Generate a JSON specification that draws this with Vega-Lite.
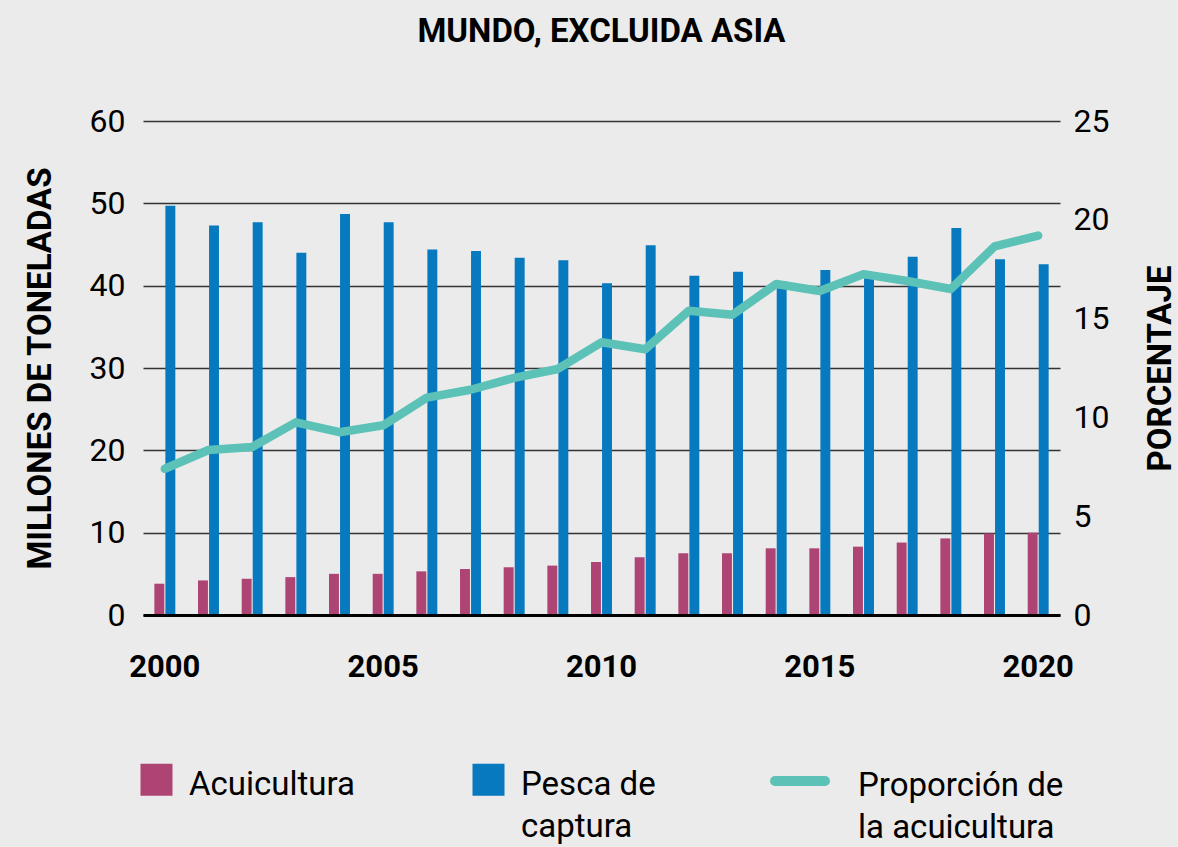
{
  "$schema": "https://vega.github.io/schema/vega-lite/v6.json",
  "autosize": {"type": "none"},
  "padding": {"left": 143, "top": 121, "right": 118, "bottom": 232},
  "width": 917,
  "height": 494,
  "background": "#ebebeb",
  "title": {
    "text": "MUNDO, EXCLUIDA ASIA",
    "fontSize": 33,
    "fontWeight": "bold",
    "font": "Roboto",
    "color": "#000000",
    "anchor": "middle",
    "baseline": "bottom",
    "offset": 23
  },
  "datasets": {
    "barras": [
      {"year": 2000, "serie": "Acuicultura", "valor": 3.8},
      {"year": 2000, "serie": "Pesca de captura", "valor": 49.7},
      {"year": 2001, "serie": "Acuicultura", "valor": 4.2},
      {"year": 2001, "serie": "Pesca de captura", "valor": 47.3},
      {"year": 2002, "serie": "Acuicultura", "valor": 4.4},
      {"year": 2002, "serie": "Pesca de captura", "valor": 47.7},
      {"year": 2003, "serie": "Acuicultura", "valor": 4.6},
      {"year": 2003, "serie": "Pesca de captura", "valor": 44.0},
      {"year": 2004, "serie": "Acuicultura", "valor": 5.0},
      {"year": 2004, "serie": "Pesca de captura", "valor": 48.7},
      {"year": 2005, "serie": "Acuicultura", "valor": 5.0},
      {"year": 2005, "serie": "Pesca de captura", "valor": 47.7},
      {"year": 2006, "serie": "Acuicultura", "valor": 5.3},
      {"year": 2006, "serie": "Pesca de captura", "valor": 44.4},
      {"year": 2007, "serie": "Acuicultura", "valor": 5.6},
      {"year": 2007, "serie": "Pesca de captura", "valor": 44.2},
      {"year": 2008, "serie": "Acuicultura", "valor": 5.8},
      {"year": 2008, "serie": "Pesca de captura", "valor": 43.4},
      {"year": 2009, "serie": "Acuicultura", "valor": 6.0},
      {"year": 2009, "serie": "Pesca de captura", "valor": 43.1},
      {"year": 2010, "serie": "Acuicultura", "valor": 6.45},
      {"year": 2010, "serie": "Pesca de captura", "valor": 40.3},
      {"year": 2011, "serie": "Acuicultura", "valor": 7.0},
      {"year": 2011, "serie": "Pesca de captura", "valor": 44.9},
      {"year": 2012, "serie": "Acuicultura", "valor": 7.5},
      {"year": 2012, "serie": "Pesca de captura", "valor": 41.2},
      {"year": 2013, "serie": "Acuicultura", "valor": 7.5},
      {"year": 2013, "serie": "Pesca de captura", "valor": 41.7},
      {"year": 2014, "serie": "Acuicultura", "valor": 8.1},
      {"year": 2014, "serie": "Pesca de captura", "valor": 40.5},
      {"year": 2015, "serie": "Acuicultura", "valor": 8.1},
      {"year": 2015, "serie": "Pesca de captura", "valor": 41.9},
      {"year": 2016, "serie": "Acuicultura", "valor": 8.3},
      {"year": 2016, "serie": "Pesca de captura", "valor": 40.9},
      {"year": 2017, "serie": "Acuicultura", "valor": 8.8},
      {"year": 2017, "serie": "Pesca de captura", "valor": 43.5},
      {"year": 2018, "serie": "Acuicultura", "valor": 9.3},
      {"year": 2018, "serie": "Pesca de captura", "valor": 47.0},
      {"year": 2019, "serie": "Acuicultura", "valor": 9.9},
      {"year": 2019, "serie": "Pesca de captura", "valor": 43.2},
      {"year": 2020, "serie": "Acuicultura", "valor": 10.0},
      {"year": 2020, "serie": "Pesca de captura", "valor": 42.6}
    ],
    "proporcion": [
      {"year": 2000, "indicador": "Proporción de la acuicultura", "pct": 7.4},
      {"year": 2001, "indicador": "Proporción de la acuicultura", "pct": 8.35},
      {"year": 2002, "indicador": "Proporción de la acuicultura", "pct": 8.5},
      {"year": 2003, "indicador": "Proporción de la acuicultura", "pct": 9.75},
      {"year": 2004, "indicador": "Proporción de la acuicultura", "pct": 9.25},
      {"year": 2005, "indicador": "Proporción de la acuicultura", "pct": 9.6},
      {"year": 2006, "indicador": "Proporción de la acuicultura", "pct": 11.0},
      {"year": 2007, "indicador": "Proporción de la acuicultura", "pct": 11.4},
      {"year": 2008, "indicador": "Proporción de la acuicultura", "pct": 12.0},
      {"year": 2009, "indicador": "Proporción de la acuicultura", "pct": 12.45},
      {"year": 2010, "indicador": "Proporción de la acuicultura", "pct": 13.8},
      {"year": 2011, "indicador": "Proporción de la acuicultura", "pct": 13.45},
      {"year": 2012, "indicador": "Proporción de la acuicultura", "pct": 15.4},
      {"year": 2013, "indicador": "Proporción de la acuicultura", "pct": 15.2},
      {"year": 2014, "indicador": "Proporción de la acuicultura", "pct": 16.75},
      {"year": 2015, "indicador": "Proporción de la acuicultura", "pct": 16.4},
      {"year": 2016, "indicador": "Proporción de la acuicultura", "pct": 17.25},
      {"year": 2017, "indicador": "Proporción de la acuicultura", "pct": 16.9},
      {"year": 2018, "indicador": "Proporción de la acuicultura", "pct": 16.5},
      {"year": 2019, "indicador": "Proporción de la acuicultura", "pct": 18.65},
      {"year": 2020, "indicador": "Proporción de la acuicultura", "pct": 19.2}
    ]
  },
  "encoding": {
    "x": {
      "field": "year",
      "type": "ordinal",
      "scale": {"paddingInner": 0.52, "paddingOuter": 0.26},
      "axis": {
        "title": null,
        "values": [2000, 2005, 2010, 2015, 2020],
        "labelAngle": 0,
        "labelFont": "Roboto",
        "labelFontSize": 31,
        "labelFontWeight": "bold",
        "labelColor": "#000000",
        "labelPadding": 37,
        "labelBaseline": "top",
        "ticks": false,
        "domain": true,
        "domainColor": "#000000",
        "domainWidth": 3,
        "grid": false,
        "zindex": 1
      }
    }
  },
  "layer": [
    {
      "data": {"name": "barras"},
      "mark": {"type": "bar"},
      "encoding": {
        "xOffset": {"field": "serie", "type": "nominal", "scale": {"paddingInner": 0.1}},
        "y": {
          "field": "valor",
          "type": "quantitative",
          "scale": {"domain": [0, 60], "nice": false},
          "axis": {
            "title": "MILLONES DE TONELADAS",
            "titleFont": "Roboto",
            "titleFontSize": 33,
            "titleFontWeight": "bold",
            "titleColor": "#000000",
            "titleAngle": -90,
            "titleX": -103,
            "titleBaseline": "middle",
            "values": [0, 10, 20, 30, 40, 50, 60],
            "labelFont": "Roboto",
            "labelFontSize": 32,
            "labelColor": "#000000",
            "labelPadding": 18,
            "ticks": false,
            "domain": false,
            "grid": true,
            "gridColor": "#333333",
            "gridWidth": 1.6
          }
        },
        "color": {
          "field": "serie",
          "type": "nominal",
          "scale": {"domain": ["Acuicultura", "Pesca de captura"], "range": ["#ae4474", "#0679bf"]},
          "legend": {
            "title": null,
            "orient": "none",
            "legendX": -3,
            "legendY": 642,
            "direction": "horizontal",
            "columns": 2,
            "gridAlign": "each",
            "columnPadding": 117,
            "symbolType": "square",
            "symbolSize": 1024,
            "symbolStrokeWidth": 0,
            "symbolOpacity": 1,
            "labelFont": "Roboto",
            "labelFontSize": 33,
            "labelColor": "#000000",
            "labelOffset": 16,
            "labelBaseline": "alphabetic",
            "labelLimit": 400,
            "labelExpr": "datum.label == 'Pesca de captura' ? ['Pesca de', 'captura'] : [datum.label, '']",
            "encode": {
              "labels": {"update": {"dy": {"value": 15}, "lineHeight": {"value": 42}}}
            }
          }
        }
      }
    },
    {
      "data": {"name": "proporcion"},
      "mark": {"type": "line", "strokeWidth": 8.5, "strokeCap": "round", "strokeJoin": "round"},
      "encoding": {
        "y": {
          "field": "pct",
          "type": "quantitative",
          "scale": {"domain": [0, 25], "nice": false},
          "axis": {
            "orient": "right",
            "title": "PORCENTAJE",
            "titleFont": "Roboto",
            "titleFontSize": 33,
            "titleFontWeight": "bold",
            "titleColor": "#000000",
            "titleAngle": -90,
            "titleX": 100,
            "titleBaseline": "middle",
            "values": [0, 5, 10, 15, 20, 25],
            "labelFont": "Roboto",
            "labelFontSize": 32,
            "labelColor": "#000000",
            "labelPadding": 13,
            "ticks": false,
            "domain": false,
            "grid": false
          }
        },
        "stroke": {
          "field": "indicador",
          "type": "nominal",
          "scale": {"range": ["#5cc2b7"]},
          "legend": {
            "title": null,
            "orient": "none",
            "legendX": 627,
            "legendY": 630,
            "symbolType": "stroke",
            "symbolSize": 2500,
            "symbolStrokeWidth": 10,
            "labelFont": "Roboto",
            "labelFontSize": 33,
            "labelColor": "#000000",
            "labelOffset": 28,
            "labelBaseline": "alphabetic",
            "labelLimit": 400,
            "labelExpr": "['Proporción de', 'la acuicultura']",
            "encode": {
              "labels": {"update": {"dy": {"value": 15}, "lineHeight": {"value": 42}}},
              "symbols": {"update": {"strokeCap": {"value": "round"}}}
            }
          }
        }
      }
    }
  ],
  "resolve": {"scale": {"y": "independent"}},
  "config": {
    "view": {"stroke": null},
    "font": "Roboto"
  }
}
